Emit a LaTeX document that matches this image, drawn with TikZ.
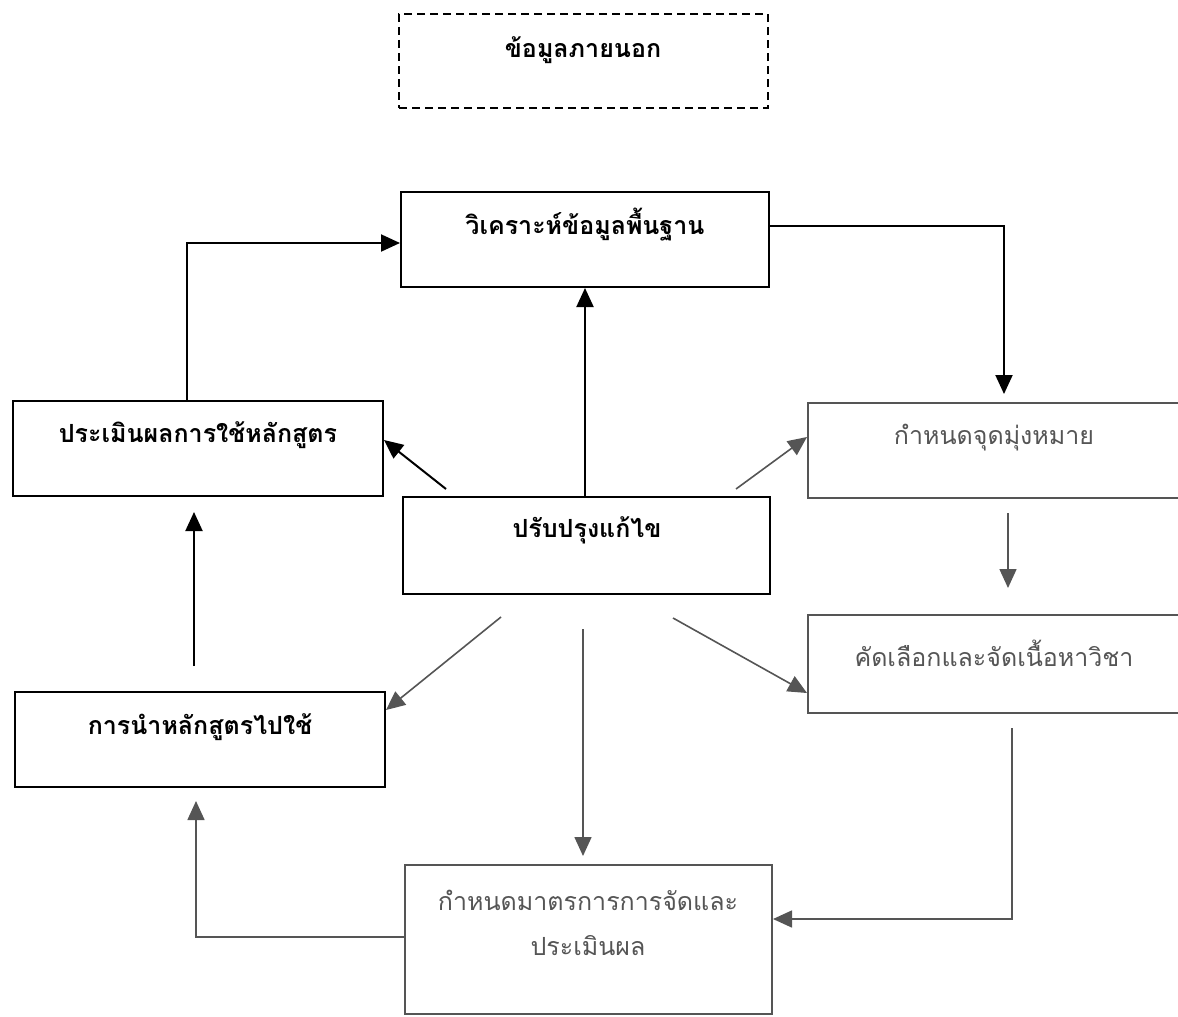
\documentclass[tikz,border=0pt]{standalone}
\usepackage{fontspec}
\newfontfamily\thaifont[Script=Thai]{Loma}
\usetikzlibrary{arrows.meta}
\definecolor{scan}{RGB}{85,85,85}

\tikzset{
  box/.style={draw, line width=2pt, minimum height=95pt, inner sep=0pt},
  dashbox/.style={box, dash pattern=on 8pt off 5pt},
  greybox/.style={box, draw=scan},
  lbl/.style={inner sep=0pt, font=\thaifont\bfseries\fontsize{25}{45}\selectfont},
  greylbl/.style={inner sep=0pt, text=scan, align=center, font=\thaifont\fontsize{25}{45}\selectfont},
  arr/.style={line width=2pt, -{Triangle[length=19pt,width=17pt]}},
  greyarr/.style={arr, draw=scan, line width=1.6pt},
}

\begin{document}
\begin{tikzpicture}[x=1pt, y=-1pt]
    \useasboundingbox (0,0) rectangle (1178,1017);

    % boxes
    \node[dashbox, minimum width=369pt, minimum height=94pt] (ext) at (583.5,61) {};
    \node[box, minimum width=368pt] (basic) at (585,239.5) {};
    \node[box, minimum width=370pt] (evalc) at (198,448.5) {};
    \node[box, minimum width=367pt, minimum height=97pt] (revise) at (586.5,545.5) {};
    \node[greybox, minimum width=400pt] (aims) at (1008,450.5) {};
    \node[greybox, minimum width=400pt, minimum height=98pt] (content) at (1008,664) {};
    \node[box, minimum width=370pt] (use) at (200,739.5) {};
    \node[greybox, minimum width=367pt, minimum height=149pt] (measure) at (588.5,939.5) {};

    % texts
    \node[lbl] (ext-t) at (583,50) {ข้อมูลภายนอก};
    \node[lbl] (basic-t) at (585,225) {วิเคราะห์ข้อมูลพื้นฐาน};
    \node[lbl] (evalc-t) at (198,435) {ประเมินผลการใช้หลักสูตร};
    \node[lbl] (revise-t) at (587,530) {ปรับปรุงแก้ไข};
    \node[greylbl] (aims-t) at (994,438) {กำหนดจุดมุ่งหมาย};
    \node[greylbl] (content-t) at (994,653) {คัดเลือกและจัดเนื้อหาวิชา};
    \node[lbl] (use-t) at (200,727) {การนำหลักสูตรไปใช้};
    \node[greylbl] (measure-t) at (588,922.5) {กำหนดมาตรการการจัดและ\\ประเมินผล};

    % connectors
    \draw[arr] ([xshift=-11pt]evalc.north) |- ([yshift=-3.5pt]basic.west);
    \draw[arr] (basic.south |- revise.north) -- (basic.south);
    \draw[arr] ([yshift=13.5pt]basic.east) -| ([xshift=-4pt,yshift=8pt]aims.north);
    \draw[arr] ([xshift=44pt,yshift=7pt]revise.north west) -- ([yshift=8.5pt]evalc.east);
    \draw[greyarr] ([xshift=-35pt,yshift=7pt]revise.north east) -- ([yshift=13.5pt]aims.west);
    \draw[greyarr] ([yshift=-14pt]aims.south) -- ([yshift=26pt]content.north);
    \draw[greyarr] ([xshift=86.5pt,yshift=-23pt]revise.south) -- ([yshift=-29pt]content.west);
    \draw[greyarr] ([xshift=-85.5pt,yshift=-22pt]revise.south) -- ([yshift=29.5pt]use.east);
    \draw[greyarr] ([xshift=-3.5pt,yshift=-34pt]revise.south) -- ([xshift=-5.5pt,yshift=8pt]measure.north);
    \draw[greyarr] ([xshift=4pt,yshift=-14pt]content.south) |- ([yshift=20.5pt]measure.east);
    \draw[greyarr] ([yshift=2.5pt]measure.west) -| ([xshift=-4pt,yshift=-13pt]use.south);
    \draw[arr] ([xshift=-6pt,yshift=25pt]use.north) -- ([xshift=-4pt,yshift=-15pt]evalc.south);
\end{tikzpicture}
\end{document}
